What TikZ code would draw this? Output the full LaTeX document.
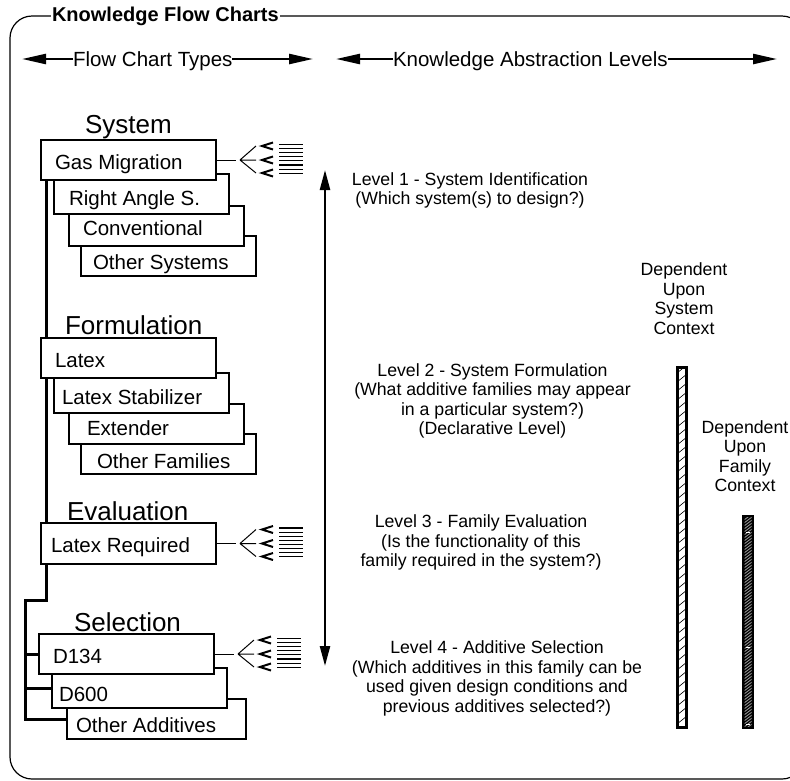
\documentclass[tikz,border=0pt]{standalone}
\usepackage{fontspec}
\setmainfont{Liberation Sans}
\usetikzlibrary{arrows.meta,backgrounds}

\tikzset{
  fanlist/.pic={
    % stub, fan-out and the list marks behind a card
    \draw[line width=1pt] (0,0) -- (20,0);
    \draw[line width=1pt] (24,0) -- (40,-14) (24,0) -- (40,0) (24,0) -- (40,13);
    \foreach \r in {-14,0,13}{
      \draw[line width=2pt] (57,{\r-3.5}) -- (46,\r) -- (57,{\r+3.5});
    }
    \foreach \k in {0,...,7}{
      \draw[line width=1.1pt] (63,{-15.5+\k*4.1}) -- (87,{-15.5+\k*4.1});
    }
  }
}

\begin{document}
\begin{tikzpicture}[x=1pt,y=-1pt,
  every node/.style={inner sep=0pt, outer sep=0pt},
  frame/.style={line width=1.2pt, rounded corners=22pt},
  hdr/.style={font=\fontsize{20.5}{24}\selectfont, anchor=base west},
  hdrarrow/.style={line width=2.4pt, -{Triangle[length=24pt,width=10pt]}},
  cardbox/.style={draw, line width=1.2pt, fill=white, minimum width=175pt,
                  minimum height=40pt, anchor=north west},
  cardtext/.style={font=\fontsize{20.5}{24}\selectfont, anchor=base west},
  stage/.style={font=\fontsize{26}{30}\selectfont, anchor=base west},
  bus/.style={line width=3pt},
  note/.style={font=\fontsize{17.7}{19.5}\selectfont, align=center},
]
\useasboundingbox (0,0) rectangle (790,780);
\clip (0,0) rectangle (790,780);

% outer frame and its title
\draw[frame] (10,16) rectangle (804,779);
\node[font=\fontsize{20}{24}\selectfont\bfseries, anchor=base west, fill=white,
      inner xsep=1pt] (title) at (51,21) {Knowledge Flow Charts};

% column headers
\node[hdr] (fct) at (73,66) {Flow Chart Types};
\coordinate (fctL) at (22,59);
\coordinate (fctR) at (313,59);
\draw[hdrarrow] (fct.west |- fctL) -- (fctL);
\draw[hdrarrow] (fct.east |- fctR) -- (fctR);

\node[hdr] (kal) at (393,66) {Knowledge Abstraction Levels};
\coordinate (kalL) at (336,59);
\coordinate (kalR) at (777,59);
\draw[hdrarrow] (kal.west |- kalL) -- (kalL);
\draw[hdrarrow] (kal.east |- kalR) -- (kalR);

% stage titles
\node[stage] (stSys) at (85,133) {System};
\node[stage] (stForm) at (65,334) {Formulation};
\node[stage] (stEval) at (67,520) {Evaluation};
\node[stage] (stSel) at (74,631) {Selection};

% System cards (back to front)
\node[cardbox] (osys) at (81,236) {};
\node[cardbox] (conv) at (69,206) {};
\node[cardbox] (ras)  at (54,174) {};
\node[cardbox] (gm)   at (41,140) {};
\node[cardtext] (tOsys) at (93,269) {Other Systems};
\node[cardtext] (tConv) at (83,235) {Conventional};
\node[cardtext] (tRas)  at (69,205) {Right Angle S.};
\node[cardtext] (tGm)   at (55,169) {Gas Migration};

% Formulation cards
\node[cardbox] (ofam)  at (81,434) {};
\node[cardbox] (ext)   at (69,404) {};
\node[cardbox] (lstab) at (54,373) {};
\node[cardbox] (latex) at (41,338) {};
\node[cardtext] (tOfam)  at (97,468) {Other Families};
\node[cardtext] (tExt)   at (87,435) {Extender};
\node[cardtext] (tLstab) at (62,404) {Latex Stabilizer};
\node[cardtext] (tLatex) at (55,367) {Latex};

% Evaluation card
\node[cardbox, minimum height=41pt] (lreq) at (41,523) {};
\node[cardtext] (tLreq) at (51,552) {Latex Required};

% Selection cards
\node[cardbox, minimum width=179pt] (oadd) at (67,699) {};
\node[cardbox] (d600) at (52,668) {};
\node[cardbox] (d134) at (39,634) {};
\node[cardtext] (tOadd) at (76,732) {Other Additives};
\node[cardtext] (tD600) at (59,701) {D600};
\node[cardtext] (tD134) at (53,663) {D134};

% bus line linking the stages, kept behind the cards
\begin{pgfonlayer}{background}
  \coordinate (busL) at (25,600);
  \draw[bus] ([xshift=5pt]gm.south west) -- ([xshift=5pt]gm.south west |- busL)
             -- (busL) |- (oadd.west);
  \draw[bus] (d134.west -| busL) -- (d134.west);
  \draw[bus] (d600.west -| busL) -- (d600.west);
\end{pgfonlayer}

% fan-out marks at the right of the decision cards
\pic at (gm.east) {fanlist};
\pic at (lreq.east) {fanlist};
\pic at (d134.east) {fanlist};

% abstraction level axis
\coordinate (lvTop) at (325,170);
\coordinate (lvBot) at (325,666);
\draw[line width=2.4pt, {Triangle[length=20pt,width=10pt]}-{Triangle[length=20pt,width=10pt]}]
  (lvTop) -- (lvBot);

% level descriptions
\node[note] (lv1) at (470,190.5)
  {Level 1 - System Identification\\(Which system(s) to design?)};
\node[note] (lv2) at (492.5,401)
  {Level 2 - System Formulation\\(What additive families may appear\\in a particular system?)\\(Declarative Level)};
\node[note] (lv3) at (481,542.5)
  {Level 3 - Family Evaluation\\(Is the functionality of this\\family required in the system?)};
\node[note] (lv4) at (497,678.5)
  {Level 4 - Additive Selection\\(Which additives in this family can be\\used given design conditions and\\previous additives selected?)};

% context dependence labels
\node[note] (sysdep) at (684,298.5) {Dependent\\Upon\\System\\Context};
\node[note] (famdep) at (745,456) {Dependent\\Upon\\Family\\Context};

% system context bar: white with sparse hatching
\begin{scope}
  \clip (678,368) rectangle (686,727);
  \foreach \yy in {356,365,...,740}
    \draw[line width=0.6pt] (677,{\yy+8}) -- (687,\yy);
\end{scope}
\draw[line width=3pt] (677.5,367.5) rectangle (686.5,727.5);

% family context bar: black with dense grey hatching
\fill[black] (742,515) rectangle (754,729);
\begin{scope}
  \clip (744.5,517.5) rectangle (751.5,726.5);
  \foreach \yy in {505,508,...,735}
    \draw[gray!75, line width=0.8pt] (744,{\yy+6}) -- (752,\yy);
\end{scope}
\foreach \yy in {532,647,724}
  \draw[white, line width=0.8pt] (746,\yy) -- (750,\yy);
\end{tikzpicture}
\end{document}
